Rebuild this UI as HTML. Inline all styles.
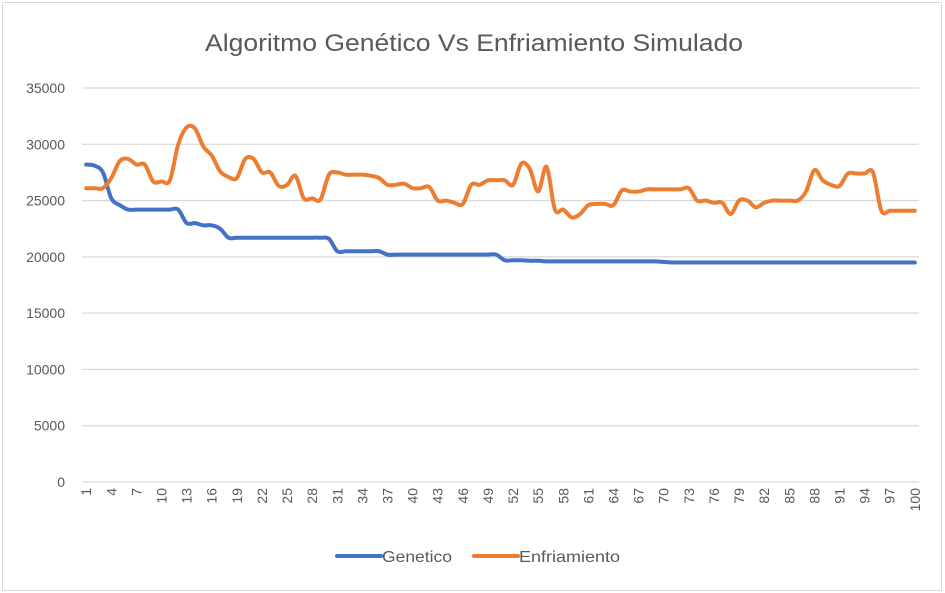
<!DOCTYPE html>
<html><head><meta charset="utf-8"><style>
html,body{margin:0;padding:0;background:#fff;}
svg{display:block;font-family:"Liberation Sans",sans-serif;}
</style></head><body>
<svg id="chart" width="945" height="593" viewBox="0 0 945 593">
<rect x="2.5" y="2.5" width="939" height="588" fill="#fff" stroke="#d9d9d9"/>
<text x="474" y="51" text-anchor="middle" font-size="24" fill="#595959" textLength="538" lengthAdjust="spacingAndGlyphs">Algoritmo Genético Vs Enfriamiento Simulado</text>
<g id="grid"></g><g id="yticks"></g><g id="xticks"></g><g id="series"></g>
<g>
<line x1="337" y1="556" x2="381" y2="556" stroke="#4472c4" stroke-width="4" stroke-linecap="round"/>
<text x="382" y="562" font-size="16" fill="#595959" textLength="70" lengthAdjust="spacingAndGlyphs">Genetico</text>
<line x1="474" y1="556" x2="518" y2="556" stroke="#ed7d31" stroke-width="4" stroke-linecap="round"/>
<text x="519" y="562" font-size="16" fill="#595959" textLength="101" lengthAdjust="spacingAndGlyphs">Enfriamiento</text>
</g>
</svg>
<script>
const yTicks=[0,5000,10000,15000,20000,25000,30000,35000];
const genetico=[28200,28100,27500,25200,24600,24200,24200,24200,24200,24200,24200,24200,23000,23000,22800,22800,22500,21700,21700,21700,21700,21700,21700,21700,21700,21700,21700,21700,21700,21600,20500,20500,20500,20500,20500,20500,20200,20200,20200,20200,20200,20200,20200,20200,20200,20200,20200,20200,20200,20200,19700,19700,19700,19650,19650,19600,19600,19600,19600,19600,19600,19600,19600,19600,19600,19600,19600,19600,19600,19550,19500,19500,19500,19500,19500,19500,19500,19500,19500,19500,19500,19500,19500,19500,19500,19500,19500,19500,19500,19500,19500,19500,19500,19500,19500,19500,19500,19500,19500,19500];
const enfriamiento=[26100,26100,26100,27000,28500,28700,28200,28200,26700,26700,26800,30000,31500,31400,29800,29000,27600,27100,27000,28700,28700,27500,27500,26300,26400,27200,25200,25200,25100,27300,27500,27300,27300,27300,27200,27000,26400,26400,26500,26100,26100,26200,25000,25000,24800,24700,26400,26400,26800,26800,26800,26400,28300,27800,25800,28000,24200,24200,23500,23800,24600,24700,24700,24600,25900,25800,25800,26000,26000,26000,26000,26000,26100,25000,25000,24800,24800,23800,25000,25000,24400,24800,25000,25000,25000,25000,25800,27700,26800,26400,26300,27400,27400,27400,27500,24100,24100,24100,24100,24100];
const N=100,X0=82,X1=919,Y0=482,Y1=88,VMAX=35000;
const step=(X1-X0)/N;
function xs(i){return X0+step*(i+0.5);}
function ys(v){return Y0-(v/VMAX)*(Y0-Y1);}
const NS='http://www.w3.org/2000/svg';
function mk(t,a,p){const e=document.createElementNS(NS,t);for(const k in a)e.setAttribute(k,a[k]);p.appendChild(e);return e;}
const grid=document.getElementById('grid'),yt=document.getElementById('yticks'),xt=document.getElementById('xticks'),sg=document.getElementById('series');
yTicks.forEach(v=>{
 const l=mk('line',{x1:X0,x2:X1,y1:ys(v),y2:ys(v),stroke:'#d9d9d9','stroke-width':1.3},grid);
 
 
 const t=mk('text',{x:65,y:ys(v)+5,'text-anchor':'end','font-size':14,fill:'#595959'},yt);
 t.textContent=String(v);
 
 
});
for(let i=0;i<N;i+=3){
 const x=xs(i)+5,y=488;
 const t=mk('text',{x:x,y:y,'text-anchor':'end','font-size':14,fill:'#595959',transform:'rotate(-90 '+x+' '+y+')'},xt);
 t.textContent=String(i+1);
 
 
}
function smooth(vals){
 const p=vals.map((v,i)=>[xs(i),ys(v)]);
 let d='M'+p[0][0]+','+p[0][1];
 for(let i=0;i<p.length-1;i++){
  const a=p[i-1]||p[i],b=p[i],c=p[i+1],e=p[i+2]||c;
  const c1=[b[0]+(c[0]-a[0])/6,b[1]+(c[1]-a[1])/6],c2=[c[0]-(e[0]-b[0])/6,c[1]-(e[1]-b[1])/6];
  d+=' C'+c1[0]+','+c1[1]+' '+c2[0]+','+c2[1]+' '+c[0]+','+c[1];
 }
 return d;
}
const pg=mk('path',{d:smooth(genetico),fill:'none',stroke:'#4472c4','stroke-width':4,'stroke-linejoin':'round','stroke-linecap':'round'},sg);


const pe=mk('path',{d:smooth(enfriamiento),fill:'none',stroke:'#ed7d31','stroke-width':4,'stroke-linejoin':'round','stroke-linecap':'round'},sg);


</script>
</body></html>
